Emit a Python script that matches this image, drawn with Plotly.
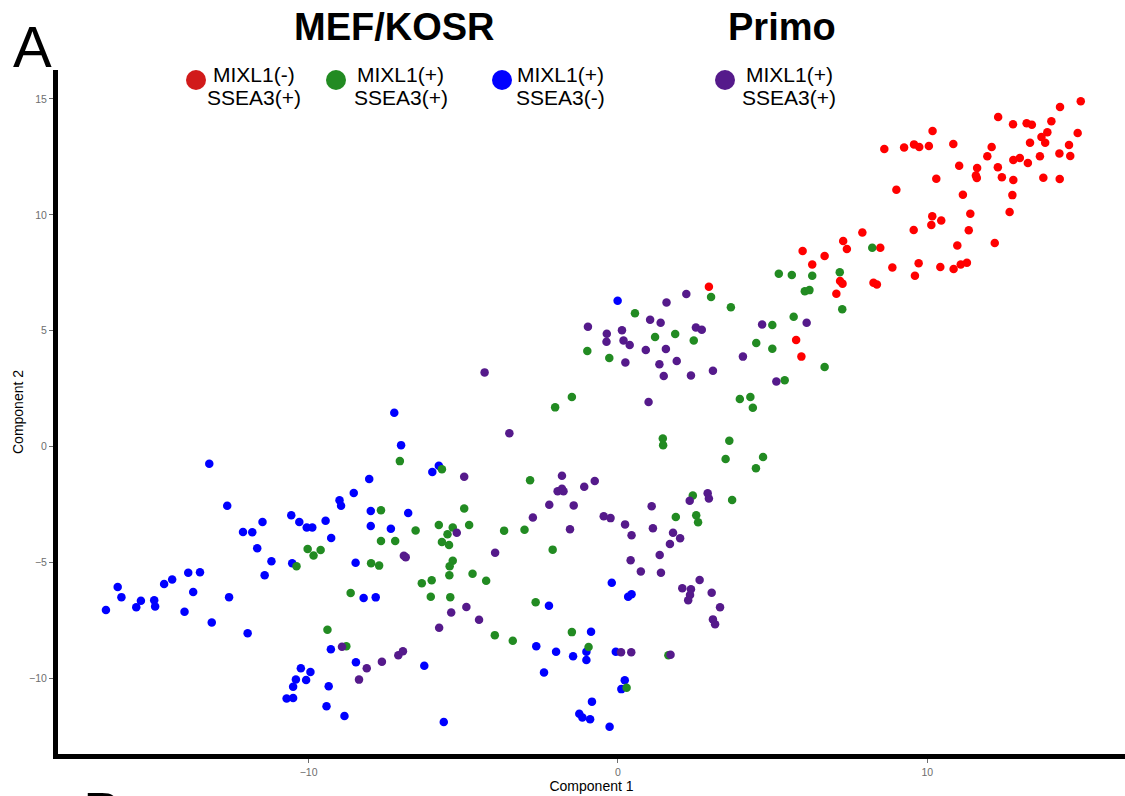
import plotly.graph_objects as go

# ---- PCA scores (Component 1, Component 2) per sorted population ----
red_x = [2.94, 7.18, 7.26, 8.26, 8.37, 7.06, 5.76, 5.93, 5.97, 6.28, 6.68, 7.28, 7.40, 7.90, 8.48,
         8.87, 9.56, 9.60, 9.72, 14.96, 14.29, 12.29, 12.77, 13.21, 13.38, 14.01, 13.88, 13.69,
         13.81, 14.86, 13.32, 14.58, 10.17, 8.61, 9.25, 9.57, 9.74, 10.05, 10.84, 12.08, 11.94,
         11.03, 11.61, 11.57, 11.60, 12.28, 12.41, 12.78, 12.99, 13.25, 13.64, 14.27, 14.62,
         12.78, 13.75, 14.28, 10.29, 9.00, 11.15, 12.75, 12.66, 11.39, 10.16, 10.45, 10.13,
         11.34, 10.97, 12.18, 10.42, 10.85, 11.08, 11.28]
red_y = [6.90, 7.14, 7.03, 7.07, 6.99, 6.59, 4.60, 3.88, 8.44, 7.86, 8.22, 8.87, 8.52, 9.24, 8.58,
         7.73, 9.34, 7.37, 7.91, 14.90, 14.65, 14.22, 13.91, 13.95, 13.89, 14.04, 13.56, 13.36,
         13.11, 13.53, 13.11, 13.01, 13.62, 12.84, 12.91, 13.04, 12.93, 12.97, 13.06, 12.93, 12.53,
         12.12, 12.02, 11.70, 11.59, 12.05, 11.62, 12.37, 12.45, 12.24, 12.53, 12.65, 12.54,
         11.50, 11.60, 11.55, 11.56, 11.08, 10.87, 10.85, 10.12, 10.05, 9.94, 9.75, 9.56,
         9.33, 8.68, 8.78, 7.75, 7.66, 7.86, 7.93]

green_x = [-7.66, -7.66, -7.20, -10.03, -9.84, -9.61, -10.39, -7.98, -7.72, -8.64, -9.39, -8.78,
           -7.05, -5.69, -2.03, -1.49, 1.45, 1.46, -2.84, -2.11, -3.68, -3.02, -4.97, -4.81,
           -5.79, -5.34, -5.51, -5.69, -5.46, -5.34, -5.44, -5.45, -4.70, -4.26, -6.02, -6.34,
           -6.05, -5.42, -6.54, 1.87, 2.42, 2.53, 2.59, -2.66, -3.98, -3.40, -1.49, -0.95,
           1.63, 0.28, 3.01, 3.65, 0.55, 1.85, 1.20, 2.45, -0.99, -0.28, 5.20, 5.62, 6.28,
           7.17, 6.04, 6.19, 7.25, 5.68, 4.99, 4.47, 4.99, 6.68, 5.39, 3.94, 4.28, 4.36,
           3.60, 3.48, 4.69, 4.46, 3.69, 8.22]
green_y = [-2.75, -4.08, -4.08, -4.42, -4.70, -4.47, -5.17, -5.04, -5.14, -6.32, -7.91, -8.62,
           -0.63, -0.98, 1.69, 2.14, 0.35, 0.06, -1.46, -4.45, -3.63, -3.59, -2.67, -3.39,
           -3.39, -3.49, -3.79, -4.12, -4.25, -4.93, -5.17, -5.56, -5.49, -5.79, -5.77, -5.90,
           -6.48, -6.50, -3.62, -3.04, -2.11, -2.97, -3.27, -6.72, -8.14, -8.38, -8.01, -8.65,
           -9.01, -10.41, 6.45, 6.01, 5.75, 4.86, 4.73, 4.58, 4.12, 3.82, 7.46, 7.40, 7.37,
           7.52, 6.70, 6.75, 5.92, 5.60, 5.24, 4.47, 4.22, 3.43, 2.86, 2.05, 2.14, 1.67,
           0.25, -0.54, -0.45, -0.94, -2.31, 8.58]

blue_x = [-7.23, -7.01, -13.21, -12.63, -8.04, -8.54, -9.00, -8.95, -7.99, -7.99, -7.34, -10.56,
          -10.30, -10.06, -9.88, -9.45, -9.27, -11.49, -12.12, -11.82, -11.66, -11.20, -11.42,
          -10.53, -8.48, -13.89, -13.51, -14.67, -14.41, -13.73, -16.17, -16.05, -16.55, -15.57,
          -15.42, -14.99, -14.96, -14.01, -12.57, -13.13, -11.97, -8.22, -7.83, -9.28, -8.47,
          -10.25, -9.94, -10.41, -10.08, -10.50, -9.35, -10.71, -10.50, -9.42, -8.84, -5.79,
          -6.00, -6.78, -0.20, 0.33, 0.44, -2.23, -2.64, -2.00, -1.45, -1.02, -1.02, -0.87,
          -2.39, -0.07, 0.22, 0.11, -0.84, -1.25, -1.15, -0.90, -0.27, -5.63, -6.26, -0.01]
blue_y = [1.46, 0.06, -0.74, -2.56, -1.40, -2.01, -2.32, -2.56, -2.78, -3.43, -3.55, -2.97,
          -3.26, -3.49, -3.49, -3.20, -3.95, -3.26, -3.69, -3.70, -4.39, -4.95, -5.56,
          -5.04, -5.02, -5.45, -5.43, -5.93, -5.74, -6.28, -6.06, -6.50, -7.06, -6.94,
          -6.66, -6.63, -6.90, -7.13, -6.50, -7.59, -8.06, -6.54, -6.51, -8.75, -9.31,
          -9.57, -9.73, -10.05, -10.08, -10.37, -10.35, -10.87, -10.85, -11.21, -11.63, -0.83,
          -1.10, -2.87, -5.88, -6.48, -6.38, -6.87, -8.62, -8.86, -9.05, -8.86, -9.21, -7.99,
          -9.75, -8.86, -10.09, -10.47, -11.01, -11.53, -11.69, -11.77, -12.09, -11.89, -9.46, 6.29]

purple_x = [-4.31, -3.51, 0.99, -4.97, -1.81, -1.95, -1.81, -1.76, -1.09, -0.75, -2.22, -1.43,
            -2.75, -1.55, -3.97, -5.21, -6.92, -6.86, -0.46, -0.24, 0.23, 0.44, 1.09, 1.13,
            0.41, 0.74, 1.39, 1.35, 1.68, 1.78, 2.01, 2.32, 2.90, 2.94, 2.08, 2.36, 2.64,
            3.03, 2.33, 2.27, 3.30, 3.07, 3.14, -5.39, -4.90, -4.49, -5.78, 0.10, 0.43, 1.70,
            -8.92, -8.12, -7.63, -7.10, -6.95, -8.37, 2.21, 1.57, -0.97, 1.04, 1.38, -0.36,
            0.13, -0.37, 0.18, 0.38, 2.52, 2.71, 0.90, 1.55, 0.24, 1.34, 1.90, 1.48, 2.36,
            3.07, 4.66, 6.10, 4.04, 5.12]
purple_y = [3.20, 0.57, 1.92, -1.30, -1.26, -1.93, -1.82, -1.93, -1.74, -1.49, -2.51, -2.54,
            -3.06, -3.57, -4.58, -3.72, -4.71, -4.78, -3.01, -3.09, -3.36, -3.83, -2.58, -3.53,
            -4.91, -5.39, -5.45, -4.68, -4.21, -3.72, -3.96, -2.34, -2.02, -2.24, -6.12, -6.16,
            -5.76, -6.31, -6.41, -6.63, -6.94, -7.46, -7.67, -7.16, -6.93, -7.48, -7.82, -8.88,
            -8.88, -8.99, -8.64, -9.57, -9.29, -9.01, -8.84, -10.06, 6.58, 6.22, 5.17, 5.47,
            5.34, 4.87, 5.02, 4.52, 4.58, 4.38, 5.14, 5.04, 4.17, 4.21, 3.63, 3.55, 3.69,
            3.04, 3.07, 3.27, 5.27, 5.34, 3.88, 2.81]

# ---- legend / styling ----
group_labels = [("MIXL1(-)", "SSEA3(+)"), ("MIXL1(+)", "SSEA3(+)"),
                ("MIXL1(+)", "SSEA3(-)"), ("MIXL1(+)", "SSEA3(+)")]
group_colors = ["#FF0000", "#228B22", "#0000FF", "#551A8B"]
legend_colors = ["#D11A1A", "#228B22", "#0000FF", "#551A8B"]
panel_titles = ["MEF/KOSR", "Primo"]

x_ticks = [-10, 0, 10]
y_ticks = [-10, -5, 0, 5, 10, 15]

W, H = 1125, 796
ML, MR, MT, MB = 58, 0, 70, 42
PW, PH = W - ML - MR, H - MT - MB


def px_x(p):
    return (p - ML) / PW


def px_y(p):
    return (H - MB - p) / PH


fig = go.Figure()

series = [(red_x, red_y, 0), (blue_x, blue_y, 2), (green_x, green_y, 1), (purple_x, purple_y, 3)]
for xs, ys, gi in series:
    fig.add_trace(go.Scatter(
        x=xs, y=ys, mode="markers",
        marker=dict(size=8.5, color=group_colors[gi], line=dict(width=0)),
        name=" ".join(group_labels[gi]), showlegend=False, hoverinfo="x+y",
    ))

FONT = "Liberation Sans, Arial, sans-serif"
annotations = []
shapes = []

# legend rows: circle + two centred text lines
legend_circle_px = [196, 336, 502, 725]
legend_text_px = [254, 400.5, 560, 789]
for i, (l1, l2) in enumerate(group_labels):
    shapes.append(dict(
        type="circle", xref="paper", yref="paper", xsizemode="pixel", ysizemode="pixel",
        xanchor=px_x(legend_circle_px[i]), yanchor=px_y(80),
        x0=-10, x1=10, y0=-10, y1=10,
        fillcolor=legend_colors[i], line=dict(width=0),
    ))
    for txt, yc in ((l1, 74), (l2, 97)):
        annotations.append(dict(
            text=txt, x=px_x(legend_text_px[i]), y=px_y(yc), xref="paper", yref="paper",
            xanchor="center", yanchor="middle", showarrow=False,
            font=dict(family=FONT, size=21, color="#000000"),
        ))

# panel group titles
for t, xc in zip(panel_titles, [394, 782]):
    annotations.append(dict(
        text=f"<b>{t}</b>", x=px_x(xc), y=px_y(27), xref="paper", yref="paper",
        xanchor="center", yanchor="middle", showarrow=False,
        font=dict(family=FONT, size=38, color="#000000"),
    ))

# panel letters
annotations.append(dict(
    text="A", x=px_x(32), y=px_y(47), xref="paper", yref="paper",
    xanchor="center", yanchor="middle", showarrow=False,
    font=dict(family=FONT, size=58, color="#000000"),
))
annotations.append(dict(
    text="B", x=px_x(102), y=px_y(778), xref="paper", yref="paper",
    xanchor="center", yanchor="top", showarrow=False,
    font=dict(family=FONT, size=58, color="#000000"),
))

axis_common = dict(
    showgrid=False, zeroline=False, showline=True, linecolor="#000000", linewidth=5,
    ticks="outside", ticklen=4, tickwidth=1, tickcolor="#6e6e6e",
    tickfont=dict(family=FONT, size=10.5, color="#6e6e6e"),
)

fig.update_layout(
    width=W, height=H,
    margin=dict(l=ML, r=MR, t=MT, b=MB, pad=0),
    paper_bgcolor="#FFFFFF", plot_bgcolor="#FFFFFF",
    xaxis=dict(range=[-18.1, 16.39], tickvals=x_ticks,
               title=dict(text="Component 1", font=dict(family=FONT, size=14, color="#000000"),
                          standoff=6),
               **axis_common),
    yaxis=dict(range=[-13.27, 16.25], tickvals=y_ticks,
               title=dict(text="Component 2", font=dict(family=FONT, size=14, color="#000000"),
                          standoff=4),
               **axis_common),
    shapes=shapes,
    annotations=annotations,
    showlegend=False,
)

fig.write_html("out.html", config={"displayModeBar": False})
